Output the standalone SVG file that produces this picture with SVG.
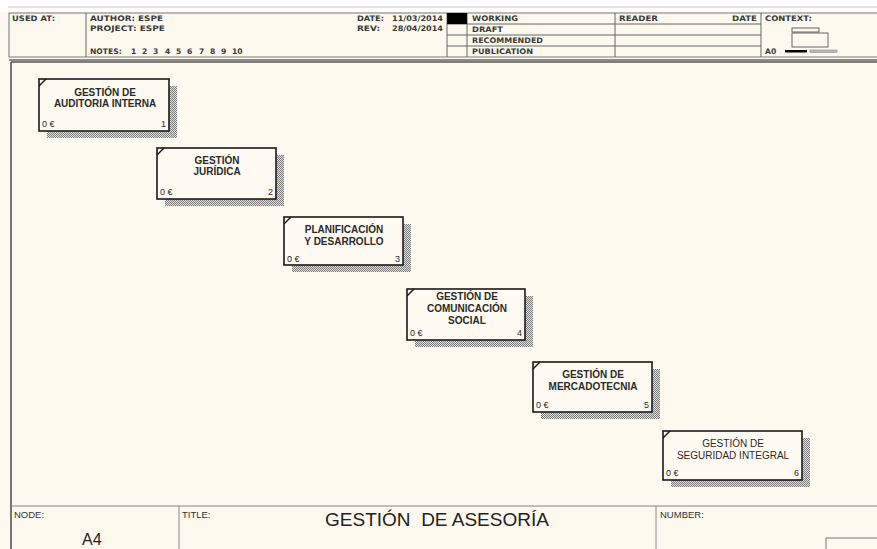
<svg xmlns="http://www.w3.org/2000/svg" width="877" height="549" viewBox="0 0 877 549">
<defs>
<pattern id="hatch" width="2" height="2" patternUnits="userSpaceOnUse">
<rect width="2" height="2" fill="#dcdcdc"/>
<rect width="1" height="1" fill="#808080"/>
<rect x="1" y="1" width="1" height="1" fill="#808080"/>
</pattern>
</defs>
<style>
.hd{font-family:"DejaVu Sans","Liberation Sans",Arial,sans-serif;font-size:7.6px;font-weight:bold;fill:#3a3a3a}
.ft{font-family:"Liberation Sans",Arial,sans-serif;font-size:9.5px;fill:#333}
.box{fill:#fffbf2;stroke:#1a1a1a;stroke-width:1.6}
.sh{fill:url(#hatch)}
.tk{stroke:#1a1a1a;stroke-width:1.4}
.lb{font-family:"Liberation Sans",Arial,sans-serif;font-size:10px;font-weight:bold;fill:#2a2a2a;text-anchor:middle}
.lbn{font-family:"Liberation Sans",Arial,sans-serif;font-size:10px;fill:#2a2a2a;text-anchor:middle}
.sm{font-family:"Liberation Sans",Arial,sans-serif;font-size:9px;fill:#2a2a2a}
.fr{stroke:#666;fill:none}
</style>
<rect width="877" height="549" fill="#fdf9ee"/>
<rect width="877" height="12" fill="#ffffff"/>
<line x1="8" y1="7" x2="877" y2="7" stroke="#c8c8c8" stroke-width="1"/>
<g id="header">
<rect x="9" y="13" width="870" height="44" fill="#fdf9ee" stroke="#777" stroke-width="1"/>
<line x1="9" y1="60" x2="877" y2="60" stroke="#666" stroke-width="1.6"/>
<line x1="86" y1="13" x2="86" y2="57" class="fr"/>
<line x1="447" y1="13" x2="447" y2="57" class="fr"/>
<line x1="467" y1="13" x2="467" y2="57" class="fr"/>
<line x1="615" y1="13" x2="615" y2="57" class="fr"/>
<line x1="761" y1="13" x2="761" y2="57" class="fr"/>
<line x1="447" y1="24" x2="761" y2="24" class="fr"/>
<line x1="447" y1="35" x2="761" y2="35" class="fr"/>
<line x1="447" y1="46" x2="761" y2="46" class="fr"/>
<rect x="447" y="13" width="20" height="11" fill="#000"/>
<text class="hd" x="12" y="21" textLength="43" lengthAdjust="spacingAndGlyphs">USED AT:</text>
<text class="hd" x="90" y="21" textLength="73" lengthAdjust="spacingAndGlyphs">AUTHOR:  ESPE</text>
<text class="hd" x="90" y="31" textLength="75" lengthAdjust="spacingAndGlyphs">PROJECT:  ESPE</text>
<text class="hd" y="54"><tspan x="90">NOTES:</tspan><tspan x="131">1</tspan><tspan x="142">2</tspan><tspan x="153">3</tspan><tspan x="165">4</tspan><tspan x="176">5</tspan><tspan x="187">6</tspan><tspan x="199">7</tspan><tspan x="210">8</tspan><tspan x="221">9</tspan><tspan x="232">10</tspan></text>
<text class="hd" x="357" y="21" textLength="27" lengthAdjust="spacingAndGlyphs">DATE:</text>
<text class="hd" x="392" y="21" textLength="51" lengthAdjust="spacingAndGlyphs">11/03/2014</text>
<text class="hd" x="357" y="31" textLength="23" lengthAdjust="spacingAndGlyphs">REV:</text>
<text class="hd" x="392" y="31" textLength="51" lengthAdjust="spacingAndGlyphs">28/04/2014</text>
<text class="hd" x="472" y="21" textLength="46" lengthAdjust="spacingAndGlyphs">WORKING</text>
<text class="hd" x="472" y="32" textLength="31" lengthAdjust="spacingAndGlyphs">DRAFT</text>
<text class="hd" x="472" y="43" textLength="71" lengthAdjust="spacingAndGlyphs">RECOMMENDED</text>
<text class="hd" x="472" y="54" textLength="61" lengthAdjust="spacingAndGlyphs">PUBLICATION</text>
<text class="hd" x="619" y="21" textLength="39" lengthAdjust="spacingAndGlyphs">READER</text>
<text class="hd" x="732" y="21" textLength="25" lengthAdjust="spacingAndGlyphs">DATE</text>
<text class="hd" x="765" y="21" textLength="47" lengthAdjust="spacingAndGlyphs">CONTEXT:</text>
<text class="hd" x="765" y="54">A0</text>
<rect x="792" y="28" width="27" height="4" fill="none" stroke="#444" stroke-width="0.8"/>
<rect x="792" y="33" width="36" height="14" fill="none" stroke="#444" stroke-width="0.8"/>
<rect x="785" y="50" width="22" height="2.5" fill="#000"/>
<rect x="810" y="50" width="27" height="2.5" fill="#bbb" stroke="#777" stroke-width="0.5"/>
</g>
<g id="frame">
<line x1="11" y1="62" x2="877" y2="62" stroke="#555" stroke-width="1.6"/>
<line x1="11" y1="62" x2="11" y2="549" stroke="#555" stroke-width="1.6"/>
<line x1="11" y1="506" x2="877" y2="506" stroke="#888" stroke-width="1.2"/>
<line x1="179" y1="506" x2="179" y2="549" stroke="#888" stroke-width="1"/>
<line x1="656" y1="506" x2="656" y2="549" stroke="#888" stroke-width="1"/>
<path d="M826 549 V538 H877" fill="none" stroke="#777" stroke-width="1"/>
<text class="ft" x="14" y="518">NODE:</text>
<text class="ft" x="182" y="518">TITLE:</text>
<text class="ft" x="660" y="518">NUMBER:</text>
<text x="82" y="545" style="font-family:'Liberation Sans',Arial,sans-serif;font-size:16px;fill:#222">A4</text>
<text x="437" y="526" text-anchor="middle" style="font-family:'Liberation Sans',Arial,sans-serif;font-size:19px;fill:#222" xml:space="preserve">GESTIÓN  DE ASESORÍA</text>
</g>
<g id="node1">
<rect class="sh" x="47" y="86" width="130" height="52"/>
<rect class="box" x="39" y="79" width="130" height="52"/>
<line class="tk" x1="39" y1="86" x2="46" y2="79"/>
<text class="lb" x="105" y="96">GESTIÓN DE</text>
<text class="lb" x="105" y="107">AUDITORIA INTERNA</text>
<text class="sm" x="42" y="127">0 €</text>
<text class="sm" x="166" y="127" text-anchor="end">1</text>
</g>
<g id="node2">
<rect class="sh" x="165" y="155" width="119" height="51"/>
<rect class="box" x="157" y="148" width="119" height="51"/>
<line class="tk" x1="157" y1="155" x2="164" y2="148"/>
<text class="lb" x="217" y="164">GESTIÓN</text>
<text class="lb" x="217" y="175">JURÍDICA</text>
<text class="sm" x="160" y="195">0 €</text>
<text class="sm" x="273" y="195" text-anchor="end">2</text>
</g>
<g id="node3">
<rect class="sh" x="292" y="224" width="119" height="48"/>
<rect class="box" x="284" y="217" width="119" height="48"/>
<line class="tk" x1="284" y1="224" x2="291" y2="217"/>
<text class="lb" x="344" y="233">PLANIFICACIÓN</text>
<text class="lb" x="344" y="245">Y DESARROLLO</text>
<text class="sm" x="287" y="262">0 €</text>
<text class="sm" x="400" y="262" text-anchor="end">3</text>
</g>
<g id="node4">
<rect class="sh" x="415" y="296" width="118" height="51"/>
<rect class="box" x="407" y="289" width="118" height="51"/>
<line class="tk" x1="407" y1="296" x2="414" y2="289"/>
<text class="lb" x="467" y="300">GESTIÓN DE</text>
<text class="lb" x="467" y="312">COMUNICACIÓN</text>
<text class="lb" x="467" y="324">SOCIAL</text>
<text class="sm" x="410" y="336">0 €</text>
<text class="sm" x="522" y="336" text-anchor="end">4</text>
</g>
<g id="node5">
<rect class="sh" x="541" y="369" width="119" height="50"/>
<rect class="box" x="533" y="362" width="119" height="50"/>
<line class="tk" x1="533" y1="369" x2="540" y2="362"/>
<text class="lb" x="593" y="378">GESTIÓN DE</text>
<text class="lb" x="593" y="390">MERCADOTECNIA</text>
<text class="sm" x="536" y="408">0 €</text>
<text class="sm" x="649" y="408" text-anchor="end">5</text>
</g>
<g id="node6">
<rect class="sh" x="671" y="438" width="139" height="49"/>
<rect class="box" x="663" y="431" width="139" height="49"/>
<line class="tk" x1="663" y1="438" x2="670" y2="431"/>
<text class="lbn" x="733" y="447">GESTIÓN DE</text>
<text class="lbn" x="733" y="459">SEGURIDAD INTEGRAL</text>
<text class="sm" x="666" y="476">0 €</text>
<text class="sm" x="799" y="476" text-anchor="end">6</text>
</g>
<g id="connectors"></g>
</svg>
